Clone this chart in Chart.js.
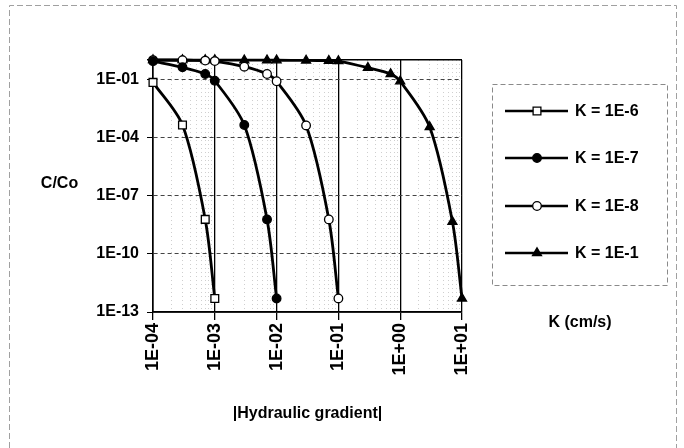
<!DOCTYPE html>
<html>
<head>
<meta charset="utf-8">
<script src="https://cdn.jsdelivr.net/npm/chart.js@4.4.1/dist/chart.umd.min.js"></script>
<style>
  html, body { margin: 0; padding: 0; background: #fff; }
  #wrap { width: 684px; height: 448px; }
</style>
</head>
<body>
<div id="wrap"><canvas id="chart" width="684" height="448"></canvas></div>
<script>
// |hydraulic gradient| values where points were computed
const gradient = [1e-4, 3e-4, 7e-4, 1e-3, 3e-3, 7e-3, 1e-2, 3e-2, 7e-2, 1e-1, 3e-1, 7e-1, 1, 3, 7, 10];

// C/Co, one list per K (cm/s)
const seriesNames = ['K = 1E-6', 'K = 1E-7', 'K = 1E-8', 'K = 1E-1'];
const cK6 = [0.07, 4.4e-4, 6e-9, 5e-13];
const cK7 = [0.87, 0.42, 0.19, 0.085, 4.4e-4, 6e-9, 5e-13];
const cK8 = [0.99, 0.97, 0.93, 0.88, 0.45, 0.19, 0.08, 4.2e-4, 6e-9, 5e-13];
const cK1 = [1, 1, 0.99, 0.99, 0.98, 0.98, 0.97, 0.95, 0.92, 0.88, 0.4, 0.19, 0.08, 3.5e-4, 4.5e-9, 5e-13];

// axis tick exponents
const yTickExp = [-13, -10, -7, -4, -1];
const xTickExp = [-4, -3, -2, -1, 0, 1];

const FONT = '"Liberation Sans", Arial, sans-serif';

function sci(v) {
    const e = Math.round(Math.log10(v));
    return '1E' + (e < 0 ? '-' : '+') + String(Math.abs(e)).padStart(2, '0');
}

function points(vals) {
    return vals.map((c, i) => ({ x: gradient[i], y: c }));
}

const markers = [
    { pointStyle: 'rect', radius: 5.5, bg: '#fff' },
    { pointStyle: 'circle', radius: 4.3, bg: '#000' },
    { pointStyle: 'circle', radius: 4.3, bg: '#fff' },
    { pointStyle: 'triangle', radius: 5.2, bg: '#000' }
];

const datasets = [cK6, cK7, cK8, cK1].map((vals, i) => ({
    label: seriesNames[i],
    data: points(vals),
    borderColor: '#000',
    borderWidth: 2.8,
    tension: 0.3,
    clip: 8,
    pointStyle: markers[i].pointStyle,
    pointRadius: markers[i].radius,
    pointBackgroundColor: markers[i].bg,
    pointBorderColor: '#000',
    pointBorderWidth: 1.3
}));

// frame, side labels and the boxed legend
const extras = {
    id: 'extras',
    afterDraw(chart) {
        const ctx = chart.ctx;
        ctx.save();

        // outer frame of the figure
        ctx.strokeStyle = '#a0a0a0';
        ctx.lineWidth = 1;
        ctx.setLineDash([6, 3]);
        ctx.beginPath();
        ctx.moveTo(9.5, 448); ctx.lineTo(9.5, 5.5); ctx.lineTo(676.5, 5.5); ctx.lineTo(676.5, 448);
        ctx.stroke();

        ctx.fillStyle = '#000';
        ctx.font = 'bold 16px ' + FONT;
        ctx.textAlign = 'center';
        ctx.textBaseline = 'middle';
        ctx.fillText('C/Co', 59.5, 184);
        ctx.fillText('K (cm/s)', 580, 323);

        // legend box
        ctx.strokeStyle = '#8a8a8a';
        ctx.setLineDash([5, 3]);
        ctx.strokeRect(492.5, 84.5, 175, 201);
        ctx.setLineDash([]);

        const rowY = [111, 158, 206, 253];
        chart.data.datasets.forEach((ds, i) => {
            const y = rowY[i];
            ctx.strokeStyle = '#000';
            ctx.lineWidth = 2.5;
            ctx.beginPath();
            ctx.moveTo(505, y);
            ctx.lineTo(568, y);
            ctx.stroke();

            ctx.fillStyle = ds.pointBackgroundColor;
            ctx.strokeStyle = '#000';
            ctx.lineWidth = ds.pointBorderWidth;
            Chart.helpers.drawPoint(ctx, {
                pointStyle: ds.pointStyle,
                radius: ds.pointRadius,
                rotation: 0,
                borderWidth: ds.pointBorderWidth
            }, 537, y);

            ctx.fillStyle = '#000';
            ctx.textAlign = 'left';
            ctx.fillText(ds.label, 575, y + 1);
        });
        ctx.restore();
    }
};

new Chart(document.getElementById('chart'), {
    type: 'line',
    data: { datasets: datasets },
    options: {
        responsive: false,
        animation: false,
        devicePixelRatio: 1,
        layout: { padding: { top: 60, right: 222, left: 0, bottom: 0 } },
        plugins: {
            legend: { display: false },
            tooltip: { enabled: false }
        },
        scales: {
            x: {
                type: 'logarithmic',
                min: 1e-4,
                max: 10,
                afterBuildTicks(scale) {
                    const ticks = [];
                    xTickExp.forEach(e => {
                        if (e === xTickExp[xTickExp.length - 1]) {
                            ticks.push({ value: Math.pow(10, e), major: true });
                            return;
                        }
                        for (let m = 1; m <= 9; m++) {
                            ticks.push({ value: m * Math.pow(10, e), major: m === 1 });
                        }
                    });
                    scale.ticks = ticks;
                },
                afterFit(scale) { scale.height = 136; },
                ticks: {
                    autoSkip: false,
                    minRotation: 90,
                    maxRotation: 90,
                    padding: 3,
                    color: '#000',
                    font: { family: FONT, size: 18, weight: 'bold' },
                    callback: (value, index, ticks) => ticks[index].major ? sci(value) : ''
                },
                grid: {
                    color: c => (c.tick && c.tick.major) ? '#000' : '#cfcfcf',
                    lineWidth: c => (c.tick && c.tick.major) ? 1.3 : 1,
                    tickLength: 8,
                    tickColor: c => (c.tick && c.tick.major) ? '#000' : 'rgba(0,0,0,0)',
                    tickWidth: 1.3
                },
                border: {
                    color: '#000',
                    width: 1.6,
                    dash: c => (c.tick && !c.tick.major) ? [1, 3] : []
                },
                title: {
                    display: true,
                    text: '|Hydraulic gradient|',
                    color: '#000',
                    font: { family: FONT, size: 16, weight: 'bold' },
                    padding: { top: 0, bottom: 25 }
                }
            },
            y: {
                type: 'logarithmic',
                min: 1e-13,
                max: 1,
                afterBuildTicks(scale) {
                    scale.ticks = yTickExp.concat([0]).map(e => ({ value: Math.pow(10, e), major: e === 0 }));
                },
                afterFit(scale) { scale.width = 153; },
                ticks: {
                    padding: 8,
                    color: '#000',
                    font: { family: FONT, size: 16, weight: 'bold' },
                    callback: (value) => value >= 1 ? '' : sci(value)
                },
                grid: {
                    color: c => (c.tick && c.tick.major) ? '#000' : '#444',
                    lineWidth: c => (c.tick && c.tick.major) ? 1.5 : 1,
                    tickLength: 6,
                    tickColor: '#000'
                },
                border: {
                    color: '#000',
                    width: 1.6,
                    dash: c => (c.tick && !c.tick.major && c.tick.value > 1e-13) ? [4, 3] : []
                }
            }
        }
    },
    plugins: [extras]
});
</script>
</body>
</html>
